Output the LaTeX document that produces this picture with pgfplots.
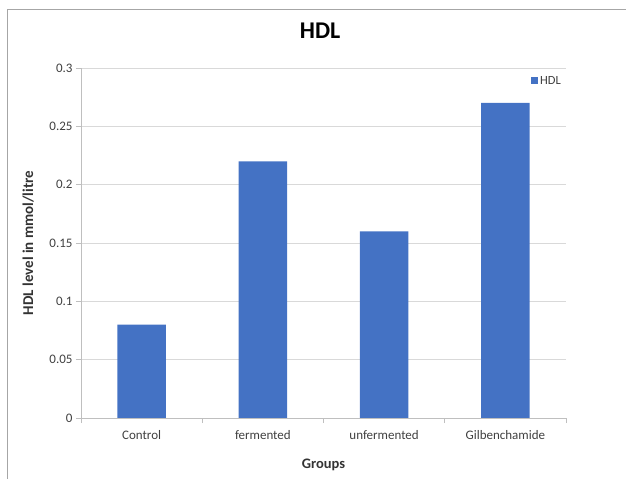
\documentclass[border=0pt]{standalone}
\usepackage{fontspec}
\setmainfont{Carlito}
\usepackage{pgfplots}
\pgfplotsset{compat=1.18}
\definecolor{barblue}{HTML}{4472C4}
\definecolor{gridgray}{HTML}{D9D9D9}
\definecolor{axisgray}{HTML}{BFBFBF}
\definecolor{framegray}{HTML}{A6A6A6}
\begin{document}
\begin{tikzpicture}
\path[use as bounding box] (0bp,0bp) rectangle (626bp,479bp);
% outer chart frame (cropped at right and bottom)
\draw[framegray, line width=1bp] (7bp,0bp) -- (7bp,469bp) -- (626bp,469bp);
\begin{axis}[
    at={(81bp,61bp)}, anchor=south west,
    scale only axis, width=485bp, height=350bp,
    xmin=-0.5, xmax=3.5, ymin=0, ymax=0.3,
    axis lines*=left,
    axis line style={axisgray, line width=0.8bp},
    ybar, bar width=0.4,
    xtick={0,1,2,3},
    xticklabels={Control,fermented,unfermented,Gilbenchamide},
    minor xtick={-0.5,0.5,1.5,2.5,3.5},
    major x tick style={draw=none},
    minor tick length=5bp,
    minor x tick style={axisgray, line width=0.8bp},
    ytick={0,0.05,0.1,0.15,0.2,0.25,0.3},
    yticklabels={0,0.05,0.1,0.15,0.2,0.25,0.3},
    major tick length=5bp,
    y tick style={axisgray, line width=0.8bp},
    tick align=outside,
    ymajorgrids,
    grid style={gridgray, line width=0.8bp},
    tick label style={font=\fontsize{13bp}{15bp}\selectfont, text=black!75},
    xticklabel style={yshift=-4bp},
    title={HDL},
    title style={at={(axis description cs:0.493,1.089)}, anchor=center,
        font=\fontsize{24bp}{27bp}\selectfont\bfseries},
    xlabel={Groups},
    xlabel style={at={(axis description cs:0.5,-0.134)}, anchor=center,
        font=\fontsize{14.5bp}{17bp}\selectfont\bfseries, text=black!80},
    ylabel={HDL level in mmol/litre},
    ylabel style={at={(axis description cs:-0.109,0.5)}, anchor=center,
        font=\fontsize{15bp}{17bp}\selectfont\bfseries, text=black!80},
    legend style={draw=none, fill=none, at={(axis description cs:0.994,0.963)},
        anchor=east, font=\fontsize{12.5bp}{14bp}\selectfont, text=black!75,
        inner sep=0pt},
    legend image code/.code={\fill[barblue] (0bp,-3.5bp) rectangle (7bp,3.5bp);},
]
\addplot[fill=barblue, draw=none] coordinates {
(0,0.08) (1,0.22) (2,0.16) (3,0.27)
};
\addlegendentry{HDL}
\end{axis}
\end{tikzpicture}
\end{document}
